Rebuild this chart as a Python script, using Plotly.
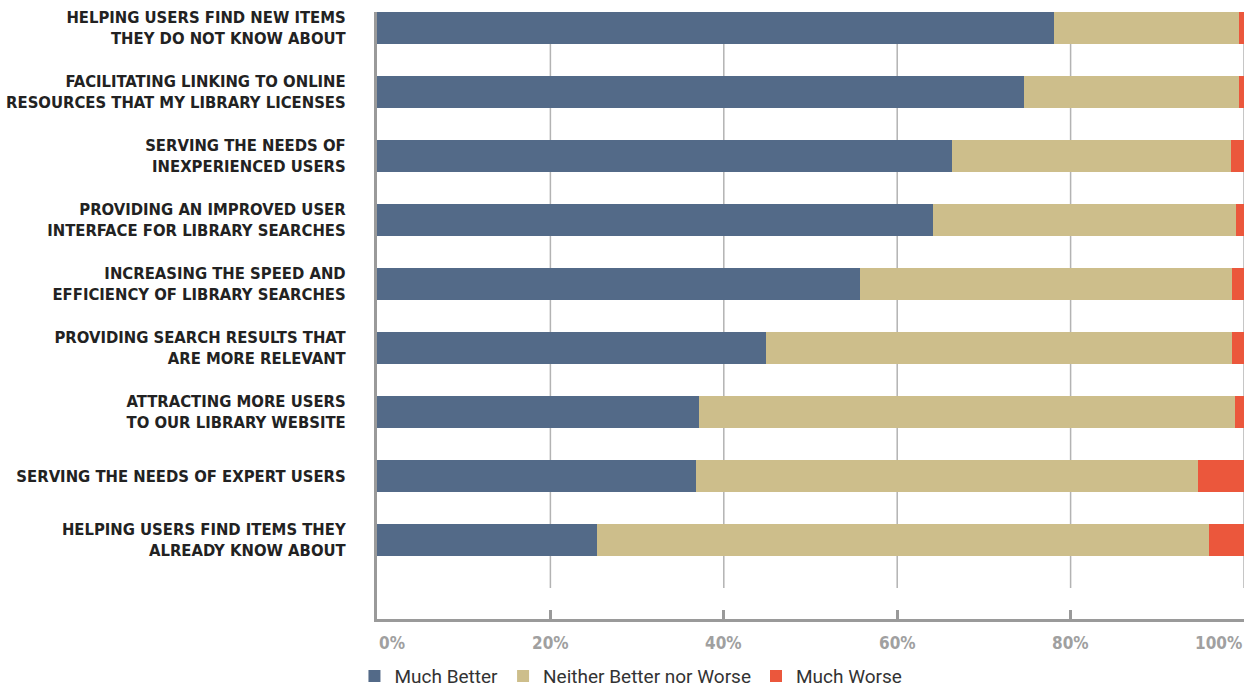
import plotly.graph_objects as go

categories = [
    "HELPING USERS FIND NEW ITEMS<br>THEY DO NOT KNOW ABOUT",
    "FACILITATING LINKING TO ONLINE<br>RESOURCES THAT MY LIBRARY LICENSES",
    "SERVING THE NEEDS OF<br>INEXPERIENCED USERS",
    "PROVIDING AN IMPROVED USER<br>INTERFACE FOR LIBRARY SEARCHES",
    "INCREASING THE SPEED AND<br>EFFICIENCY OF LIBRARY SEARCHES",
    "PROVIDING SEARCH RESULTS THAT<br>ARE MORE RELEVANT",
    "ATTRACTING MORE USERS<br>TO OUR LIBRARY WEBSITE",
    "SERVING THE NEEDS OF EXPERT USERS",
    "HELPING USERS FIND ITEMS THEY<br>ALREADY KNOW ABOUT",
]
much_better = [78.1, 74.6, 66.3, 64.1, 55.7, 44.9, 37.1, 36.8, 25.4]
neither = [21.3, 24.8, 32.2, 35.0, 42.9, 53.7, 61.9, 57.9, 70.6]
much_worse = [0.6, 0.6, 1.5, 0.9, 1.4, 1.4, 1.0, 5.3, 4.0]

tick_vals = [0, 20, 40, 60, 80, 100]
tick_text = ["0%", "20%", "40%", "60%", "80%", "100%"]

series = [
    ("Much Better", much_better, "#536A88"),
    ("Neither Better nor Worse", neither, "#CDBE8B"),
    ("Much Worse", much_worse, "#EB573C"),
]

LABEL_FONT = "DejaVu Sans Condensed, Roboto, sans-serif"
LEG_FONT = "Roboto, sans-serif"

ypos = list(range(len(categories)))
fig = go.Figure()
for name, vals, color in series:
    fig.add_trace(go.Bar(
        x=vals, y=ypos, orientation="h", name=name,
        marker=dict(color=color, line=dict(width=0)),
        width=0.5, hoverinfo="x+name",
    ))

# gridlines (stop short of the bottom axis)
for v in tick_vals[1:]:
    fig.add_shape(type="line", xref="x", yref="y", x0=v, x1=v, y0=-0.25, y1=8.75,
                  line=dict(color="#B3B3B3", width=1.5), layer="below")

# tick labels
for i, (v, t) in enumerate(zip(tick_vals, tick_text)):
    anchor = "left" if i == 0 else ("right" if i == len(tick_vals) - 1 else "center")
    fig.add_annotation(x=v, y=0, xref="x", yref="paper", yshift=-24, text="<b>" + t + "</b>",
                       showarrow=False, xanchor=anchor, yanchor="middle",
                       font=dict(family=LABEL_FONT, size=17, color="#A0A0A0"))

fig.update_layout(
    barmode="stack",
    width=1254, height=688,
    margin=dict(l=377, r=10, t=12, b=69, autoexpand=False),
    plot_bgcolor="white", paper_bgcolor="white",
    showlegend=True,
    legend=dict(orientation="h", x=-0.026, xref="paper", y=-0.094, yanchor="middle",
                xanchor="left", font=dict(family=LEG_FONT, size=19, color="#333333"),
                bgcolor="rgba(0,0,0,0)",
                traceorder="normal", itemclick=False),
    bargap=0.5,
)
fig.update_xaxes(range=[0, 100], tickvals=tick_vals, showticklabels=False,
                 ticks="inside", ticklen=9, tickwidth=2.5, tickcolor="#9A9A9A",
                 showgrid=False, showline=True, linecolor="#9A9A9A", linewidth=3,
                 zeroline=False, fixedrange=True, automargin=False)
fig.update_yaxes(range=[8 + 79/64, -0.25], tickvals=ypos, ticktext=["<b>" + c + "</b>" for c in categories],
                 tickfont=dict(family=LABEL_FONT, size=16.5, color="#222222"),
                 ticks="", showline=True, linecolor="#9A9A9A", linewidth=3,
                 showgrid=False, zeroline=False, ticklabelstandoff=25, fixedrange=True,
                 automargin=False)

fig.write_html("out.html")
